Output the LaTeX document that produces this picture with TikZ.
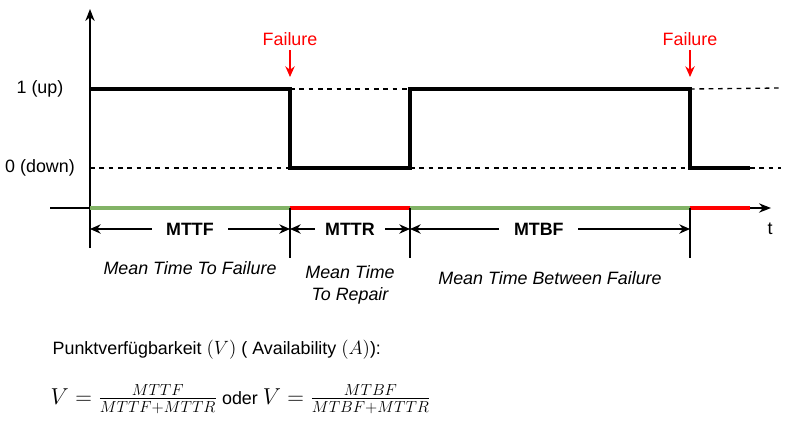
\documentclass[tikz,border=0pt]{standalone}
\usepackage[no-math]{fontspec}
\setmainfont{Liberation Sans}
\usetikzlibrary{arrows.meta}
\definecolor{upgreen}{HTML}{82B366}
\newcommand\diagfont{\fontsize{13.4}{16}\selectfont}
\newcommand\mathbig{\fontsize{16.5}{19}\selectfont}
\newcommand\mathmid{\fontsize{14.5}{17}\selectfont}
\tikzset{
  axis/.style={line width=1.1pt, -{Stealth[length=9pt,width=7pt]}},
  signal/.style={line width=2.5pt, line join=miter},
  level/.style={line width=1pt, dash pattern=on 3.5pt off 3.5pt},
  uptime/.style={line width=3pt, draw=upgreen},
  downtime/.style={line width=3pt, draw=red},
  tick/.style={line width=1.1pt},
  dim/.style={line width=1pt, {Stealth[length=8pt,width=7pt]}-{Stealth[length=8pt,width=7pt]}},
  dimlabel/.style={fill=white, font=\diagfont\bfseries, inner xsep=11pt, inner ysep=1pt},
  failtext/.style={text=red, font=\diagfont},
  failure/.style={draw=red, line width=1.1pt, -{Stealth[length=8pt,width=7pt]}},
  descr/.style={font=\diagfont\itshape, align=center},
  plain/.style={font=\diagfont}
}
\begin{document}
\begin{tikzpicture}[x=0.75pt,y=-0.75pt]
  \useasboundingbox (0,0) rectangle (791,429);
  % time points
  \coordinate (t0) at (90,208);
  \coordinate (t1) at (290,208);
  \coordinate (t2) at (410,208);
  \coordinate (t3) at (690,208);
  \coordinate (t4) at (750,208);
  \coordinate (xend) at (771,208);
  \coordinate (xstart) at (50,208);
  \coordinate (ytop) at (90,9);
  \coordinate (ybot) at (90,248);
  % levels
  \node[plain] (up) at (40,89) {1 (up)};
  \node[plain] (down) at (40,168) {0 (down)};
  \draw[level] (t1 |- up) -- (t2 |- up);
  \draw[level] (t3 |- up) -- (781,88);
  \draw[level] (t0 |- down) -- (t1 |- down);
  \draw[level] (t2 |- down) -- (t3 |- down);
  \draw[level] (t4 |- down) -- (781,168);
  % signal
  \draw[signal] (t0 |- up) -- (t1 |- up) -- (t1 |- down) -- (t2 |- down)
    -- (t2 |- up) -- (t3 |- up) -- (t3 |- down) -- (t4 |- down);
  % axes
  \draw[axis] (xstart) -- (xend);
  \draw[axis] (ybot) -- (ytop);
  \draw[uptime] (t0) -- (t1);
  \draw[downtime] (t1) -- (t2);
  \draw[uptime] (t2) -- (t3);
  \draw[downtime] (t3) -- (t4);
  \node[plain] (t) at (770,229) {t};
  % ticks
  \foreach \p in {t1,t2,t3}
    \draw[tick] (\p) -- ++(0,50);
  % failures
  \node[failtext] (fail1) at (290,39) {Failure};
  \node[failtext] (fail2) at (690,39) {Failure};
  \coordinate (hit1) at (290,77);
  \coordinate (hit2) at (690,77);
  \draw[failure] (fail1) -- (hit1);
  \draw[failure] (fail2) -- (hit2);
  % durations
  \draw[dim] (90,229) -- (290,229) node[dimlabel, pos=0.5] (mttf) {MTTF};
  \draw[dim] (290,229) -- (410,229) node[dimlabel, pos=0.5, inner xsep=8pt] (mttr) {MTTR};
  \draw[dim] (410,229) -- (690,229) node[dimlabel, pos=0.46] (mtbf) {MTBF};
  \node[descr] (mttfdescr) at (190,268) {Mean Time To Failure};
  \node[descr] (mttrdescr) at (350,285) {Mean Time\\To Repair};
  \node[descr] (mtbfdescr) at (550,278) {Mean Time Between Failure};
  % availability
  \node[plain, anchor=west] (avail) at (48,350)
    {Punktverfügbarkeit {\mathmid$(V)$} ( Availability {\mathmid$(A)$}):};
  \node[plain, anchor=west] (formula) at (46,399)
    {{\mathbig$V=\frac{MTTF}{MTTF+MTTR}$} oder {\mathbig$V=\frac{MTBF}{MTBF+MTTR}$}};
\end{tikzpicture}
\end{document}
